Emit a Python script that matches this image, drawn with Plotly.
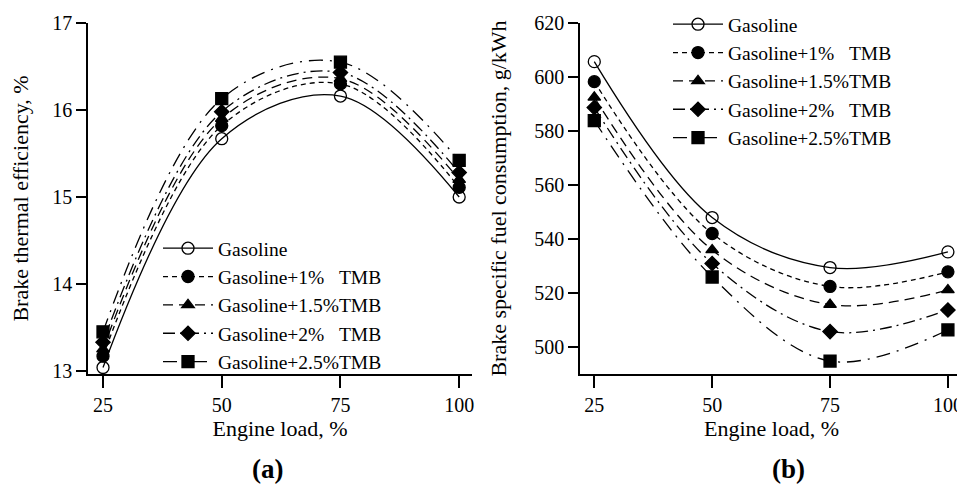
import plotly.graph_objects as go
from plotly.subplots import make_subplots

# engine load, %
load = [25, 50, 75, 100]

names = ['Gasoline', 'Gasoline+1%\u00a0\u00a0\u00a0TMB', 'Gasoline+1.5%TMB',
         'Gasoline+2%\u00a0\u00a0\u00a0TMB', 'Gasoline+2.5%TMB']

# (a) brake thermal efficiency, %
bte_gas = [13.04, 15.67, 16.16, 15.00]
bte_1 = [13.17, 15.82, 16.30, 15.11]
bte_15 = [13.25, 15.90, 16.36, 15.20]
bte_2 = [13.33, 15.98, 16.43, 15.28]
bte_25 = [13.45, 16.13, 16.55, 15.42]

# (b) brake specific fuel consumption, g/kWh
bsfc_gas = [605.7, 548.0, 529.5, 535.3]
bsfc_1 = [598.3, 542.1, 522.5, 527.9]
bsfc_15 = [592.5, 536.0, 515.8, 521.2]
bsfc_2 = [588.7, 531.0, 505.8, 513.8]
bsfc_25 = [583.9, 526.0, 494.9, 506.4]

FONT = 'Liberation Serif'
W, H = 957, 476  # page body has an 8px margin


def px(x):
    return (x - 8) / W


def py(y):
    return 1 - (y - 8) / H


styles = [
    dict(symbol='circle-open', size=12, dash='solid'),
    dict(symbol='circle', size=12, dash='5px,4px'),
    dict(symbol='triangle-up', size=11, dash='10px,6px'),
    dict(symbol='diamond', size=11, dash='12px,5px,2px,5px'),
    dict(symbol='square', size=12, dash='14px,7px,2px,7px'),
]

fig = make_subplots(rows=1, cols=2)

for col, series, leg in [(1, [bte_gas, bte_1, bte_15, bte_2, bte_25], 'legend'),
                         (2, [bsfc_gas, bsfc_1, bsfc_15, bsfc_2, bsfc_25], 'legend2')]:
    for name, vals, st in zip(names, series, styles):
        fig.add_trace(go.Scatter(
            x=load, y=vals, name=name, mode='lines+markers',
            line=dict(color='black', width=1.3, dash=st['dash'], shape='spline'),
            marker=dict(symbol=st['symbol'], size=st['size'], color='black',
                        line=dict(color='black', width=1.3)),
            legend=leg), row=1, col=col)

title_font = dict(family=FONT, size=22, color='black')
axis_common = dict(showline=True, linecolor='black', linewidth=1.5, showgrid=False,
                   zeroline=False, ticks='outside', tickcolor='black', tickwidth=1.5,
                   tickfont=dict(family=FONT, size=20, color='black'), mirror=False,
                   automargin=False)

fig.update_xaxes(**axis_common, tickvals=load, ticklen=12)
fig.update_yaxes(**axis_common, ticklen=10)

fig.update_xaxes(domain=[px(88), px(472)], range=[21.84, 102.7], row=1, col=1,
                 title=dict(text='Engine load, %', font=title_font, standoff=2))
fig.update_xaxes(domain=[px(580), px(963)], range=[21.97, 103.2], row=1, col=2,
                 title=dict(text='Engine load, %', font=title_font, standoff=2))
fig.update_yaxes(domain=[py(374), py(23)], range=[12.965, 17], dtick=1, row=1, col=1,
                 title=dict(text='Brake thermal efficiency, %', font=title_font, standoff=20))
fig.update_yaxes(domain=[py(374), py(23)], range=[490.1, 620], dtick=20, row=1, col=2,
                 title=dict(text='Brake specific fuel consumption, g/kWh', font=title_font,
                            standoff=22))

legend_common = dict(font=dict(family=FONT, size=19.5, color='black'), bgcolor='rgba(0,0,0,0)',
                     itemwidth=50, tracegroupgap=0, xanchor='left', yanchor='top')

fig.update_layout(
    width=W, height=H,
    margin=dict(l=0, r=0, t=0, b=0, autoexpand=False),
    paper_bgcolor='white', plot_bgcolor='white',
    legend=dict(**legend_common, x=px(158), y=py(229)),
    legend2=dict(**legend_common, x=px(668), y=py(5)),
    annotations=[
        dict(text='<b>(a)</b>', x=px(267), y=py(469), xref='paper', yref='paper',
             xanchor='center', yanchor='middle', showarrow=False,
             font=dict(family=FONT, size=27, color='black')),
        dict(text='<b>(b)</b>', x=px(788), y=py(469), xref='paper', yref='paper',
             xanchor='center', yanchor='middle', showarrow=False,
             font=dict(family=FONT, size=27, color='black')),
    ],
)

fig.write_html('out.html')
